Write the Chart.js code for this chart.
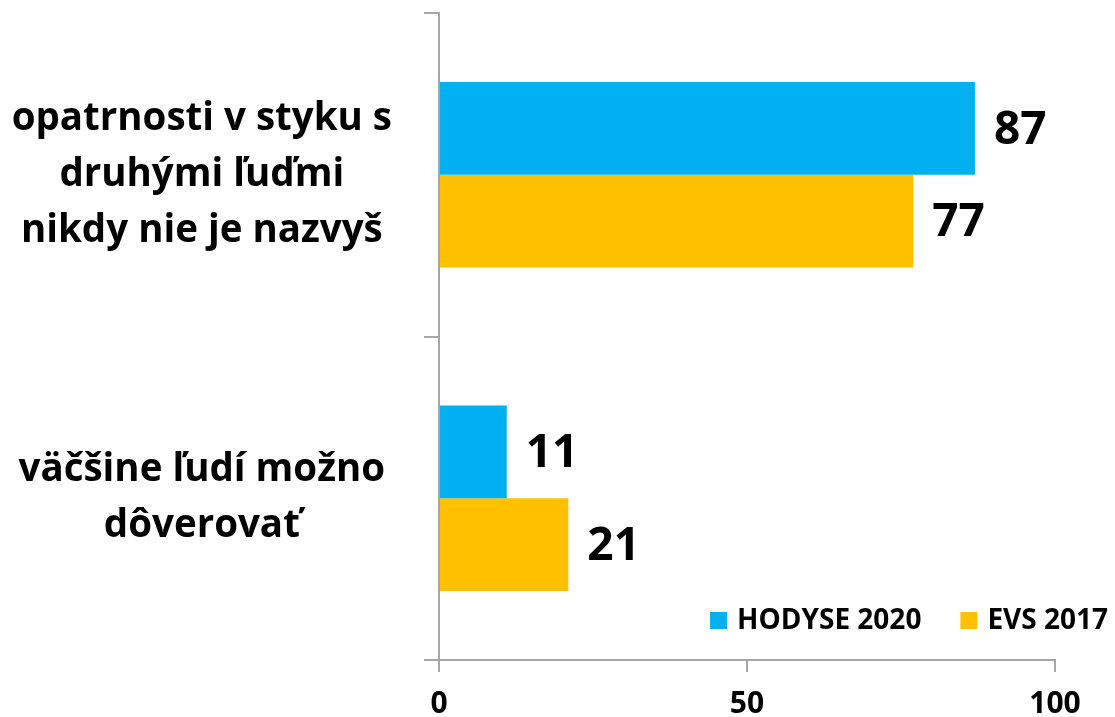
<!DOCTYPE html>
<html>
<head>
<meta charset="utf-8">
<script src="https://cdn.jsdelivr.net/npm/chart.js@4.4.0/dist/chart.umd.min.js"></script>
<style>
    html, body { margin: 0; padding: 0; background: #fff; }
    #wrap { width: 1115px; height: 717px; }
</style>
</head>
<body>
<div id="wrap"><canvas id="Chart"></canvas></div>
<script>
// Kategórie (viacriadkové popisky)
var categories = [
    ['opatrnosti v styku s', 'druhými ľuďmi', 'nikdy nie je nazvyš'],
    ['väčšine ľudí možno', 'dôverovať']
];
var seriesNames = ['HODYSE 2020', 'EVS 2017'];
var hodyse2020 = [87, 11];
var evs2017 = [77, 21];
var xTicks = [0, 50, 100];

var blue = '#00B0F0';
var orange = '#FFC000';
var axisGray = '#a6a6a6';
var fontFamily = '"Open Sans"';

// Hodnoty za koncom stĺpcov
var valueLabels = {
    id: 'valueLabels',
    afterDatasetsDraw: function (chart) {
        var ctx = chart.ctx;
        ctx.save();
        ctx.font = 'bold 46px ' + fontFamily;
        ctx.fillStyle = '#000';
        ctx.textAlign = 'left';
        ctx.textBaseline = 'middle';
        chart.data.datasets.forEach(function (ds, i) {
            chart.getDatasetMeta(i).data.forEach(function (bar, j) {
                ctx.fillText(ds.data[j], bar.x + 19, bar.y + 2);
            });
        });
        ctx.restore();
    }
};

// Legenda vpravo dole vnútri grafu
var cornerLegend = {
    id: 'cornerLegend',
    afterDraw: function (chart) {
        var ctx = chart.ctx;
        var area = chart.chartArea;
        ctx.save();
        ctx.font = 'bold 28px ' + fontFamily;
        ctx.textBaseline = 'middle';
        var x = chart.width - 7;
        var y = area.bottom - 40;
        var items = chart.data.datasets.slice().reverse();
        items.forEach(function (ds) {
            var w = ctx.measureText(ds.label).width;
            x -= w;
            ctx.fillStyle = '#000';
            ctx.fillText(ds.label, x, y + 1);
            x -= 10 + 17;
            ctx.fillStyle = ds.backgroundColor;
            ctx.fillRect(x, y - 8, 17, 17);
            x -= 39;
        });
        ctx.restore();
    }
};

var data = {
    labels: categories,
    datasets: [{
        label: seriesNames[0],
        data: hodyse2020,
        backgroundColor: blue
    }, {
        label: seriesNames[1],
        data: evs2017,
        backgroundColor: orange
    }]
};

var options = {
    indexAxis: 'y',
    responsive: true,
    maintainAspectRatio: false,
    animation: false,
    layout: {
        padding: { top: 13, right: 60, left: 0, bottom: 0 }
    },
    datasets: {
        bar: {
            categoryPercentage: 0.573,
            barPercentage: 1
        }
    },
    scales: {
        x: {
            min: 0,
            max: 100,
            afterBuildTicks: function (scale) {
                scale.ticks = xTicks.map(function (v) { return { value: v }; });
            },
            afterFit: function (scale) {
                scale.height = 57;
                scale.paddingLeft = 0;
                scale.paddingRight = 0;
            },
            grid: {
                drawOnChartArea: false,
                tickLength: 12,
                color: axisGray,
                lineWidth: 2
            },
            border: { color: axisGray, width: 2 },
            ticks: {
                color: '#000',
                padding: 14,
                maxRotation: 0,
                font: { family: fontFamily, size: 30, weight: 'bold' }
            }
        },
        y: {
            afterFit: function (scale) {
                scale.width = 439;
                scale.paddingTop = 0;
                scale.paddingBottom = 0;
            },
            grid: {
                drawOnChartArea: false,
                tickLength: 15,
                color: axisGray,
                lineWidth: 2
            },
            border: { color: axisGray, width: 2 },
            ticks: {
                color: '#000',
                crossAlign: 'center',
                padding: 32,
                font: { family: fontFamily, size: 38.5, weight: 'bold', lineHeight: '56px' }
            }
        }
    },
    plugins: {
        legend: { display: false },
        tooltip: { enabled: false }
    }
};

var context = document.getElementById('Chart').getContext('2d');
var myChart = new Chart(context, {
    type: 'bar',
    data: data,
    options: options,
    plugins: [valueLabels, cornerLegend]
});
</script>
</body>
</html>
